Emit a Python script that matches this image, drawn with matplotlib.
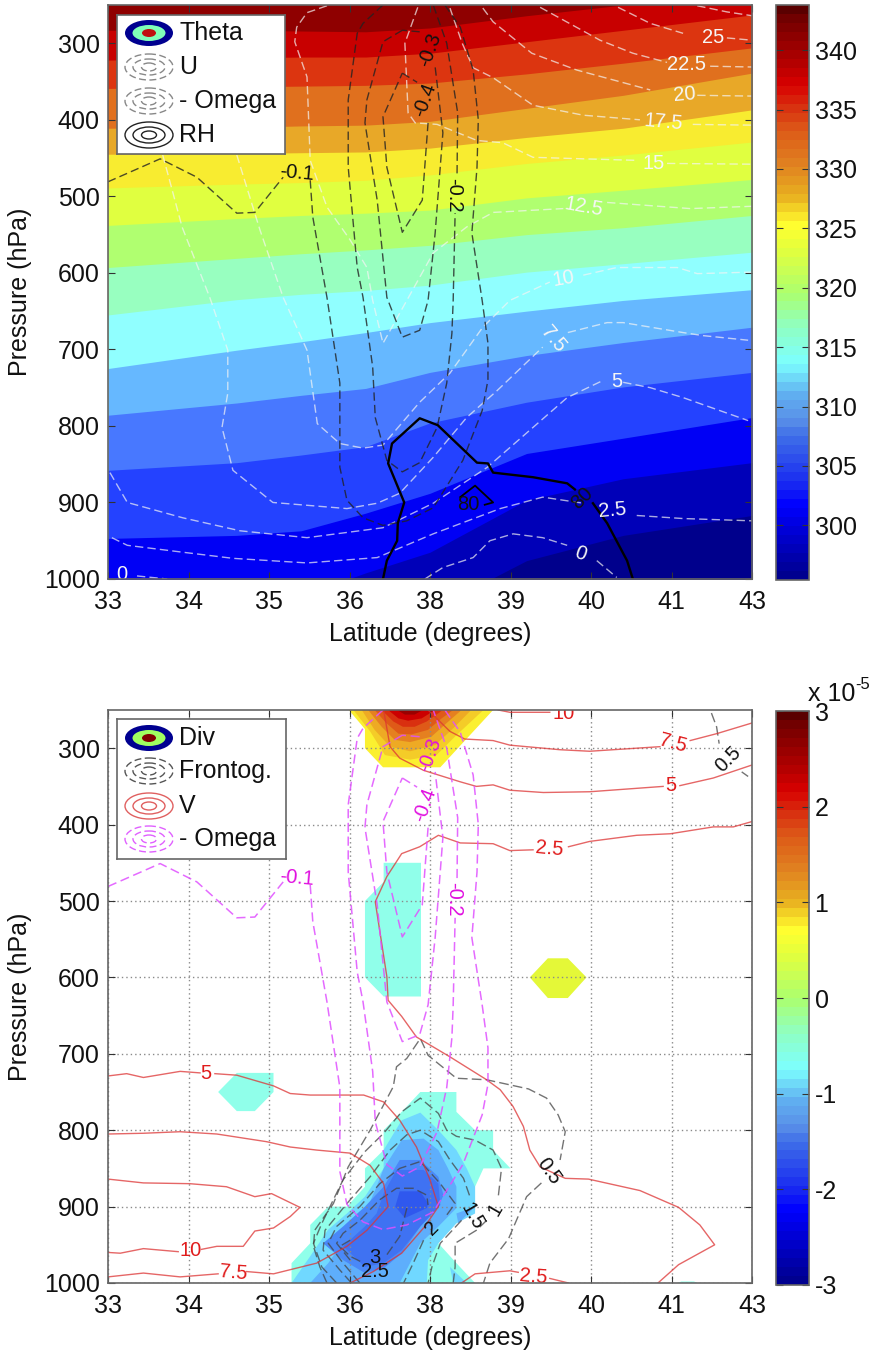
#!/usr/bin/env python3
# -*- coding: utf-8 -*-
"""Cross sections of theta, wind, omega, RH (top) and divergence, frontogenesis, V (bottom)."""
import numpy as np
import matplotlib
matplotlib.use('Agg')
import matplotlib.pyplot as plt
from matplotlib.cm import ScalarMappable
from matplotlib.colors import LinearSegmentedColormap, Normalize
from matplotlib.patches import Ellipse

plt.rcParams['font.family'] = ['Liberation Sans', 'DejaVu Sans']

nan = np.nan
W, H = 876, 1355

#------------------------------------------------------------------------------#
# Axis labels
x_ticks = np.linspace(33, 43, 9)
x_tick_labels = ['33', '34', '35', '36', '38', '39', '40', '41', '43']
y_ticks = [300, 400, 500, 600, 700, 800, 900, 1000]

#------------------------------------------------------------------------------#
# Theta bands: pressure of each band edge at these latitudes, top of figure down
theta_lat = [33, 35, 36, 37, 38, 39.5, 41, 43]
theta_edges = [
    [283, 283, 284, 285, 280, 264, 250, 237],
    [322, 319, 318, 318, 313, 298, 283, 263],
    [359, 357, 356, 355, 352, 340, 326, 306],
    [411, 410, 408, 407, 402, 385, 368, 339],
    [445, 444, 443, 442, 437, 423, 411, 387],
    [489, 484, 482, 479, 472, 457, 446, 429],
    [538, 529, 525, 522, 518, 502, 492, 478],
    [593, 581, 575, 570, 564, 550, 541, 525],
    [655, 635, 628, 623, 616, 599, 588, 573],
    [725, 701, 690, 678, 665, 650, 636, 622],
    [786, 770, 760, 751, 730, 708, 691, 671],
    [858, 848, 838, 827, 796, 769, 749, 730],
    [947, 943, 937, 914, 888, 836, 816, 789],
    [1080, 1054, 1022, 992, 965, 897, 869, 848],
    [1150, 1120, 1100, 1080, 1041, 976, 943, 917],
]
theta_colors = ['#8f0000', '#c80000', '#dc3510', '#e0701e', '#e8a828', '#f8ec30',
                '#e0ff40', '#b0ff70', '#98ffc0', '#90ffff', '#66b8ff', '#4878ff',
                '#2442ff', '#0000f5', '#0000b8', '#00008c']

#------------------------------------------------------------------------------#
# Omega contours (both panels)
om1_lat = [33, 33.81, 34.38, 35, 35.28, 35.72, nan, 36.14, 36.18, 36.40, 36.60, 36.60, 36.71, 36.96,
           37.27, 37.64, 38.05, 38.51, 38.81, 38.90, 38.90, 38.81, 38.65, 38.73, 38.75, 38.67, 38.47, 38.23]
om1_p = [481, 451, 475, 522, 521, 475, nan, 479, 527, 632, 744, 854, 897, 920,
         930, 924, 907, 845, 780, 740, 692, 636, 548, 462, 400, 335, 279, 250]
om2_lat = [37.27, 36.96, 36.87, 36.73, 36.73, 36.87, 36.96, 37.11, 37.15, 37.33, 37.57, 37.84, 38.11,
           38.26, 38.34, 38.36, 38.39, nan, 38.42, 38.43, 38.26, 38.05]
om2_p = [250, 274, 287, 374, 462, 593, 632, 723, 789, 845, 860, 848, 802,
         744, 679, 636, 522, nan, 470, 391, 300, 250]
om3_lat = [37.57, 37.27, 37.02, 36.99, 37.18, 37.33, 37.57, 37.84, 37.97, 38.08, 38.20, 38.08, nan, 37.84, 37.57]
om3_p = [283, 298, 374, 404, 505, 632, 684, 675, 636, 548, 417, 331, nan, 285, 283]
om4_lat = [37.57, 37.80, nan, 37.97, 37.88, 37.57, 37.33, 37.27, 37.57]
om4_p = [339, 351, nan, 404, 505, 547, 462, 396, 339]

om_label_text = ['-0.1', '-0.2', '-0.3', '-0.4']
om_label_lat = [35.93, 38.37, 38.00, 37.92]
om_label_p = [470, 498, 309, 374]
om_label_rot = [-5, -90, 70, 70]

#------------------------------------------------------------------------------#
# U contours (top)
u275_lat = [42.15, 42.61, 43]
u275_p = [251, 259, 264]
u25_lat = [40.92, 41.42, 41.93, nan, 42.61, 43]
u25_p = [253, 274, 287, nan, 293, 296]
u225_lat = [39.71, 40.64, 41.15, 41.68, nan, 42.35, 43]
u225_p = [253, 296, 313, 325, nan, 330, 331]
u20_lat = [38.82, 38.98, 39.58, 40.28, 41.42, nan, 42.15, 43]
u20_p = [254, 272, 313, 335, 361, nan, 368, 369]
u175_lat = [38.31, 38.50, 38.67, 38.98, 39.60, 40.38, 41.26, nan, 42.08, 43]
u175_p = [254, 300, 332, 345, 381, 394, 400, nan, 406, 407]
u15_lat = [37.81, 37.61, 37.66, 37.77, 38.11, 38.73, 39.13, 39.60, 40.38, 41.21, nan, 41.68, 43]
u15_p = [253, 300, 391, 404, 406, 427, 430, 449, 451, 453, nan, 457, 458]
u125_lat = [36.40, 36.09, 35.93, 35.90, 36.09, 36.14, 36.40, 36.76, 37.02, 37.11, 37.27, 37.64,
            38.05, 38.57, 38.98, 40.07, nan, 40.75, 42.04, 43]
u125_p = [251, 260, 279, 298, 344, 453, 514, 557, 593, 636, 692, 636,
          574, 540, 521, 516, nan, 508, 516, 513]
u10_lat = [35, 35.36, 35.72, 36.09, 36.25, 36.60, 36.96, 37.27, 37.84, 38.31, 38.82, 39.24, 39.86,
           nan, 40.38, 40.90, 41.84, 42.15, 43]
u10_p = [446, 544, 632, 701, 797, 823, 829, 825, 769, 731, 671, 636, 612,
         nan, 603, 593, 593, 601, 599]
u75_lat = [33.85, 34.01, 34.15, 34.58, 34.86, 34.86, 34.77, 34.94, 35.56, 36.71, 37.18, 37.53, 38.05,
           38.57, 39.04, 39.75, nan, 40.14, 40.75, 41, 41.93, 42.24, 42.94]
u75_p = [446, 496, 540, 632, 701, 757, 802, 858, 900, 908, 901, 888, 841,
         789, 754, 697, nan, 678, 665, 665, 678, 682, 688]
u5_lat = [33.03, 33.30, 34.16, 35.05, 36.09, 37.27, 38.05, 38.89, 40.13, 40.70, nan, 41.00, 41.42, 41.93, 42.94]
u5_p = [861, 900, 920, 937, 946, 933, 901, 854, 763, 740, nan, 743, 750, 763, 793]
u25b_lat = [33.06, 33.30, 34.16, 34.94, 36.09, 37.18, 38.05, 39.09, 39.75, 40.38, nan, 41.21, 41.93, 43]
u25b_p = [946, 956, 965, 973, 979, 972, 941, 908, 893, 901, nan, 917, 921, 924]
u0a_lat = [33, nan, 33.45, 33.92]
u0a_p = [996, nan, 996, 1000]
u0b_lat = [37.92, 38.20, 38.67, 38.93, 39.29, 39.75, 40.13, nan, 40.59, 40.90]
u0b_p = [1000, 985, 972, 950, 941, 946, 956, nan, 976, 998]

u_label_text = ['25', '22.5', '20', '17.5', '15', '12.5', '10', '7.5', '5', '2.5', '0', '0']
u_label_lat = [42.39, 41.99, 41.96, 41.62, 41.48, 40.38, 40.07, 39.91, 40.90, 40.84, 40.34, 33.22]
u_label_p = [293, 328, 367, 403, 457, 514, 607, 686, 742, 910, 967, 994]
u_label_rot = [0, 0, 5, -5, 0, -10, 10, -50, 0, 5, -20, 0]

#------------------------------------------------------------------------------#
# RH contours (top)
rh1_lat = [37.27, 37.33, 37.49, 37.50, 37.60, 37.35, 37.41, 37.84, 38.12, 38.73, 38.90, 38.98, 39.60,
           40.13, 40.25, nan, 40.53, 40.75, 41.06, 41.15]
rh1_p = [1000, 976, 950, 927, 900, 849, 823, 790, 799, 848, 849, 861, 867,
         875, 883, nan, 901, 927, 976, 1000]
rh2_lat = [38.85, 38.98, 38.70, 38.47]
rh2_p = [903, 900, 878, 893]
rh_label_text = ['80', '80']
rh_label_lat = [38.59, 40.36]
rh_label_p = [903, 894]
rh_label_rot = [0, 45]

#------------------------------------------------------------------------------#
# Divergence patches (bottom), outermost first
div_mint_lat = [37.85, 38.41, 38.41, 38.70, 38.98, 38.98, 39.25, 38.83, 38.70, 38.70, 38.41, 38.13, 38.41, 38.70,
                35.85, 35.85, 36.14, 36.14, 36.42, 36.71, 36.99, 36.99, 37.28, 37.28, 37.56]
div_mint_p = [750, 750, 776, 800, 800, 826, 850, 850, 874, 905, 921, 948, 974, 1000,
              1000, 974, 948, 924, 900, 900, 874, 850, 826, 800, 776]
div_mint2_lat = [37.28, 37.86, 37.86, 37.28, 36.99, 36.99, 37.28]
div_mint2_p = [450, 450, 625, 625, 600, 500, 475]
div_mint3_lat = [35, 35.57, 35.57, 35.28, 35, 34.71]
div_mint3_p = [725, 725, 750, 775, 775, 750]
div_mint4_lat = [41.85, 42.15, 42.10, 41.90]
div_mint4_p = [1000, 1000, 998, 998]
div_sky_lat = [37.56, 37.85, 38.13, 38.41, 38.57, 38.70, 38.70, 38.41, 38.13, 37.97, 37.95, 35.85,
               36.14, 36.42, 36.71, 36.99, 37.28, 37.28]
div_sky_p = [787, 777, 800, 826, 850, 874, 909, 922, 948, 970, 1000, 1000,
             965, 930, 909, 887, 850, 826]
div_sky2_lat = [38.31, 38.57, 38.36]
div_sky2_p = [979, 1000, 1000]
div_blue1_lat = [37.56, 37.90, 38.13, 38.28, 38.41, 38.41, 38.13, 37.85, 37.69, 37.53, 36.14, 36.42,
                 36.71, 36.99, 37.17, 37.28]
div_blue1_p = [813, 811, 826, 850, 874, 902, 926, 948, 974, 1000, 1000, 974,
               939, 909, 874, 850]
div_blue1b_lat = [38.41, 38.70, 38.44]
div_blue1b_p = [909, 900, 922]
div_blue2_lat = [37.53, 37.85, 38.13, 38.21, 38.13, 37.85, 37.56, 37.28, 36.99, 36.65, 36.34, 36.65, 36.99, 37.28]
div_blue2_p = [839, 839, 861, 885, 900, 926, 961, 981, 987, 970, 948, 926, 900, 874]
div_blue3_lat = [37.48, 37.90, 38.13, 38.16, 37.85, 37.56, 37.28, 36.99, 36.65, 36.99, 37.17, 37.28]
div_blue3_p = [852, 852, 870, 898, 926, 957, 974, 979, 952, 926, 909, 883]
div_blue4_lat = [37.53, 37.85, 37.97, 37.95, 37.61, 37.46]
div_blue4_p = [880, 880, 896, 902, 915, 900]
div_yel_lat = [39.83, 40.14, 40.43, 40.14, 39.83, 39.55]
div_yel_p = [575, 575, 600, 627, 627, 600]
div_hi1_lat = [36.74, 36.99, 36.99, 37.27, 38.16, 38.98]
div_hi1_p = [250, 275, 300, 325, 325, 250]
div_hi2_lat = [36.81, 37.07, 37.30, 37.69, 38.10, 38.41, 38.83]
div_hi2_p = [250, 278, 309, 315, 309, 283, 250]
div_hi3_lat = [36.94, 37.14, 37.38, 37.69, 38.08, 38.36, 38.64]
div_hi3_p = [250, 276, 298, 304, 296, 274, 250]
div_hi4_lat = [37.04, 37.25, 37.45, 37.69, 38.02, 38.26, 38.49]
div_hi4_p = [250, 272, 289, 292, 285, 267, 250]
div_hi5_lat = [37.14, 37.32, 37.51, 37.71, 37.97, 38.18, 38.36]
div_hi5_p = [250, 267, 281, 282, 276, 261, 250]
div_hi6_lat = [37.25, 37.43, 37.58, 37.76, 37.95, 38.20]
div_hi6_p = [250, 265, 272, 272, 265, 250]
div_hi7_lat = [37.35, 37.51, 37.66, 37.87, 38.08]
div_hi7_p = [250, 261, 264, 261, 250]
div_hi8_lat = [37.49, 37.61, 37.76, 37.89]
div_hi8_p = [250, 256, 256, 250]

#------------------------------------------------------------------------------#
# V contours (bottom)
v25a_lat = [41.54, 41.86, 42.42, 42.19, 41.86, 41.26, 40.46, 40.10, 39.71, 39.55, 39.45, 39.29, 39.09, 38.88,
            38.31, 37.79, 37.56, 37.35, 37.33, 37.15, 37.33, 37.56, 37.84, 38.13, 38.47, 38.98, 39.24, 39.60,
            nan, 40.15, 40.48, 41.21, 41.73, 42.40, 42.71, 43]
v25a_p = [1000, 976, 950, 924, 901, 879, 864, 863, 848, 826, 795, 769, 747, 734,
          704, 678, 651, 630, 599, 501, 468, 438, 429, 414, 424, 425, 434, 433,
          nan, 429, 422, 414, 412, 403, 403, 396]
v25b_lat = [38.49, 38.70, 39.24, 39.37, nan, 39.86, 40.15]
v25b_p = [1000, 988, 984, 986, nan, 994, 1000]
v5a_lat = [37.28, 37.38, 37.53, 37.90, 38.47, 38.72, 38.98, 39.24, 39.76, 40.48, 41.62, nan, 41.88, 42.40, 43]
v5a_p = [250, 298, 313, 329, 344, 350, 348, 355, 358, 357, 350, nan, 349, 339, 322]
v5b_lat = [33, 33.29, 33.55, 34.12, 34.43, nan, 34.66, 35, 35.57, 35.83, 36.14, 36.97, 37.28, 37.53,
           37.79, 38, 38.13, 37.92, 37.56, 37.12, 36.76]
v5b_p = [729, 726, 731, 723, 725, nan, 726, 728, 742, 752, 754, 754, 763, 787,
         822, 865, 900, 926, 961, 985, 1000]
v75a_lat = [37.97, 38.31, 38.54, 38.98, 39.24, 40.02, 40.48, 41.57, nan, 42.04, 42.45, 43]
v75a_p = [250, 278, 288, 290, 296, 302, 304, 298, nan, 290, 281, 267]
v75b_lat = [33, 33.55, 34.12, 34.69, 35.46, 35.83, 36.24, 36.76, 37.07, 37.28, 37.35, 37.02, 36.71, 36.24,
            35.57, 35.15, nan, 34.71, 34.12, 33.55, 33]
v75b_p = [805, 804, 802, 805, 815, 822, 826, 830, 846, 870, 900, 931, 952, 974,
          988, 985, nan, 988, 992, 987, 992]
v10a_lat = [39.06, 39.24, 39.86, nan, 40.30]
v10a_p = [250, 253, 253, nan, 250]
v10b_lat = [33, 33.55, 34.27, 34.84, 35.28, 35.54, 35.98, 35.83, 35.57, 35.28, 35.10, 34.69, 34.45,
            nan, 34.09, 33.55, 33.19, 33]
v10b_p = [864, 869, 870, 874, 887, 883, 901, 913, 928, 932, 952, 952, 956,
          nan, 959, 955, 961, 960]

v_label_text = ['2.5', '5', '7.5', '10', '5', '10', '7.5', '2.5']
v_label_lat = [39.85, 41.74, 41.77, 40.07, 34.52, 34.28, 34.95, 39.60]
v_label_p = [432, 349, 294, 254, 726, 957, 987, 992]
v_label_rot = [-5, 0, -15, 0, 0, 0, -5, -5]

#------------------------------------------------------------------------------#
# Frontogenesis contours (bottom)
fg05a_lat = [36.40, 36.29, 36.19, 36.21, 36.50, 36.73, 37.07, 37.43, 37.48, 37.64, 37.85, 37.97, 38.41, 38.88,
             39.53, 39.81, 39.99, 40.10, 40.02, nan, 39.73, 39.50, 39.22, 38.93, 38.83]
fg05a_p = [1000, 979, 952, 931, 896, 848, 800, 743, 717, 706, 680, 702, 732, 734,
           746, 758, 780, 802, 839, nan, 869, 887, 942, 974, 1000]
fg05b_lat = [42.37, 42.45, 42.49, nan, 42.84, 42.94]
fg05b_p = [254, 272, 294, nan, 331, 337]
fg10_lat = [36.55, 36.32, 36.19, 36.32, 36.65, 36.99, 37.28, 37.56, 37.85, 38.13, 38.26, 38.41, 38.70, 38.98,
            39.11, 39.06, nan, 38.88, 38.72, 38.39, 38.39, 38.36]
fg10_p = [1000, 979, 948, 922, 865, 828, 804, 776, 758, 778, 800, 808, 813, 826,
          850, 887, nan, 918, 931, 948, 979, 1000]
fg15_lat = [36.78, 36.60, 36.34, 36.37, 36.71, 37.07, 37.38, 37.64, 37.85, 38.13, 38.31, 38.52, 38.62,
            nan, 38.49, 38.16, 38.03, 37.97]
fg15_p = [1000, 983, 957, 931, 896, 861, 826, 806, 800, 815, 839, 863, 887,
          nan, 918, 948, 979, 1000]
fg20_lat = [36.91, 36.65, 36.42, 36.55, 36.91, 37.22, 37.53, 37.85, 38.16, 38.39, 38.26,
            nan, 37.90, 37.74, 37.59]
fg20_p = [1000, 974, 948, 926, 900, 870, 850, 841, 870, 896, 911,
          nan, 944, 974, 1000]
fg25a_lat = [36.76, 36.55, 36.65, 36.91, 37.22, 37.48, 37.74, 37.95, 37.97]
fg25a_p = [970, 948, 935, 918, 891, 876, 876, 885, 898]
fg25b_lat = [37.64, 37.53, 37.33]
fg25b_p = [902, 939, 963]
fg30_lat = [36.76, 36.60, 36.76, 36.97]
fg30_p = [944, 952, 965, 974]

fg_label_text = ['0.5', '0.5', '1', '1.5', '2', '3', '2.5']
fg_label_lat = [42.63, 39.84, 39.01, 38.65, 38.03, 37.15, 37.15]
fg_label_p = [315, 854, 904, 913, 928, 966, 985]
fg_label_rot = [45, -55, 60, -60, 45, 0, 0]

#------------------------------------------------------------------------------#
# Colorbars
cbar_pos = [0, 0.125, 0.165, 0.247, 0.275, 0.32, 0.375, 0.44, 0.497, 0.578, 0.618, 0.64,
            0.67, 0.728, 0.787, 0.827, 0.867, 0.9, 0.95, 0.985, 1]
cbar_col = ['#00008f', '#0000ff', '#1a2cf0', '#3f6fe8', '#5a90e8', '#60b0f0', '#7cffff', '#90ffc0',
            '#aaff70', '#e4ff3c', '#ffff30', '#f8e028', '#e8b020', '#e08020', '#dd5a18', '#d83010',
            '#d80000', '#b80000', '#8f0000', '#700000', '#5a0000']
theta_ticks = [300, 305, 310, 315, 320, 325, 330, 335, 340]
div_ticks = [-3, -2, -1, 0, 1, 2, 3]
#------------------------------------------------------------------------------#


def axes_px(x0, y0, x1, y1):
    """Axes rectangle from pixel edges, y measured from the top of the image."""
    return [x0 / W, 1 - y1 / H, (x1 - x0) / W, (y1 - y0) / H]


def setup_axes(ax, grid=False):
    ax.set_xlim(33, 43)
    ax.set_ylim(1000, 250)
    ax.set_xticks(x_ticks)
    ax.set_xticklabels(x_tick_labels)
    ax.set_yticks(y_ticks)
    ax.tick_params(direction='in', length=5, width=0.8, color='#333333', top=True, right=True,
                   labelsize=18, labelcolor='#111111')
    ax.tick_params(axis='x', pad=8)
    ax.tick_params(axis='y', pad=6)
    ax.set_xlabel('Latitude (degrees)', fontsize=18, labelpad=6, color='#111111')
    ax.set_ylabel('Pressure (hPa)', fontsize=18, color='#111111')
    ax.yaxis.set_label_coords(-0.118, 0.5)
    for side in ax.spines.values():
        side.set_color('#666666')
        side.set_linewidth(1.2)
        side.set_zorder(20)
    if grid:
        ax.set_axisbelow(False)
        ax.grid(True, linestyle=(0, (1, 2.2)), color='#8a8a8a', linewidth=1.0)


def dashed(ax, lat, p, color, lw=1.0, alpha=1.0, dash=(6, 3)):
    ax.plot(lat, p, color=color, lw=lw, alpha=alpha, linestyle=(0, dash), zorder=4)


def solid(ax, lat, p, color, lw=1.0, alpha=1.0):
    ax.plot(lat, p, color=color, lw=lw, alpha=alpha, zorder=4)


def labels(ax, text, lat, p, rot, color, size=14.5):
    for t, x, y, r in zip(text, lat, p, rot):
        ax.text(x, y, t, rotation=r, color=color, fontsize=size, ha='center', va='center',
                rotation_mode='anchor', zorder=6, clip_on=True)


def legend_box(x0, y0, x1, y1, rows):
    """Hand made legend: rows of (label, y pixel, outline colour or tuple of fills, dashed)."""
    box = fig.add_axes(axes_px(x0, y0, x1, y1), zorder=10)
    box.set_xlim(x0, x1)
    box.set_ylim(y1, y0)
    box.set_xticks([])
    box.set_yticks([])
    box.set_facecolor('white')
    for side in box.spines.values():
        side.set_color('#666666')
        side.set_linewidth(1.2)
    for text, yc, style, dash in rows:
        if isinstance(style, tuple):
            for (w, h), c in zip([(48, 26), (33, 16), (14, 8)], style):
                box.add_patch(Ellipse((149, yc), w, h, facecolor=c, edgecolor='none'))
        else:
            for w, h in [(48, 26), (32, 16), (15, 8)]:
                box.add_patch(Ellipse((149, yc), w, h, facecolor='none', edgecolor=style, lw=1.0,
                                      linestyle=(0, (5, 2.5)) if dash else '-'))
        box.text(179, yc, text, fontsize=18, va='center', ha='left', color='#111111')


def colorbar(y0, y1, vmin, vmax, ticks):
    cax = fig.add_axes(axes_px(776, y0, 809, y1))
    sm = ScalarMappable(Normalize(vmin, vmax), cmap)
    cb = fig.colorbar(sm, cax=cax, ticks=ticks)
    cb.outline.set_edgecolor('#666666')
    cb.outline.set_linewidth(1.2)
    cax.tick_params(direction='in', length=5, width=0.8, color='#333333', left=True, right=True,
                    labelsize=18, pad=4, labelcolor='#111111')
    cax.set_yticklabels([str(t) for t in ticks])
    return cb


#------------------------------------------------------------------------------#
fig = plt.figure(figsize=(W / 100, H / 100), dpi=100)
cmap = LinearSegmentedColormap.from_list('jetish', list(zip(cbar_pos, cbar_col)), N=64)

#------------------------------------------------------------------------------#
# TOP PANEL.
ax1 = fig.add_axes(axes_px(108, 5, 752, 579))
ax1.fill_between(theta_lat, 200, 1200, color=theta_colors[0], lw=0, zorder=1)
for edge, col in zip(theta_edges, theta_colors[1:]):
    # paint each band down to the bottom so no seams show between them
    ax1.fill_between(theta_lat, edge, 1200, color=col, lw=0, zorder=1)
setup_axes(ax1)

for lat, p in [(u275_lat, u275_p), (u25_lat, u25_p), (u225_lat, u225_p), (u20_lat, u20_p), (u175_lat, u175_p),
               (u15_lat, u15_p), (u125_lat, u125_p), (u10_lat, u10_p), (u75_lat, u75_p), (u5_lat, u5_p),
               (u25b_lat, u25b_p), (u0a_lat, u0a_p), (u0b_lat, u0b_p)]:
    dashed(ax1, lat, p, '#f4f4f4', lw=1.0, alpha=0.7)
labels(ax1, u_label_text, u_label_lat, u_label_p, u_label_rot, '#f6f6f6')

for lat, p in [(om1_lat, om1_p), (om2_lat, om2_p), (om3_lat, om3_p), (om4_lat, om4_p)]:
    dashed(ax1, lat, p, '#222222', lw=1.0, alpha=0.8)
labels(ax1, om_label_text, om_label_lat, om_label_p, om_label_rot, '#111111')

solid(ax1, rh1_lat, rh1_p, '#000000', lw=1.7)
solid(ax1, rh2_lat, rh2_p, '#000000', lw=1.3)
labels(ax1, rh_label_text, rh_label_lat, rh_label_p, rh_label_rot, '#111111')

legend_box(117, 15, 285, 154, [
    ('Theta', 33, ('#000090', '#80ffb8', '#c01010'), False),
    ('U', 67, '#888888', True),
    ('- Omega', 101, '#888888', True),
    ('RH', 135, '#222222', False),
])
colorbar(5, 580, 295.4, 343.8, theta_ticks)

#------------------------------------------------------------------------------#
# BOTTOM PANEL.
ax2 = fig.add_axes(axes_px(108, 710, 752, 1283))
for lat, p, col in [(div_mint_lat, div_mint_p, '#90ffea'), (div_mint2_lat, div_mint2_p, '#90ffea'),
                    (div_mint3_lat, div_mint3_p, '#90ffea'), (div_mint4_lat, div_mint4_p, '#90ffea'),
                    (div_sky_lat, div_sky_p, '#70d8ff'), (div_sky2_lat, div_sky2_p, '#70d8ff'),
                    (div_blue1_lat, div_blue1_p, '#5eaefc'), (div_blue1b_lat, div_blue1b_p, '#5eaefc'),
                    (div_blue2_lat, div_blue2_p, '#4a88f8'), (div_blue3_lat, div_blue3_p, '#3f72f2'),
                    (div_blue4_lat, div_blue4_p, '#2f58ee'), (div_yel_lat, div_yel_p, '#e4f838'),
                    (div_hi1_lat, div_hi1_p, '#fbf030'), (div_hi2_lat, div_hi2_p, '#f4cc28'),
                    (div_hi3_lat, div_hi3_p, '#eeaa24'), (div_hi4_lat, div_hi4_p, '#e58020'),
                    (div_hi5_lat, div_hi5_p, '#df5a18'), (div_hi6_lat, div_hi6_p, '#d93010'),
                    (div_hi7_lat, div_hi7_p, '#cc0000'), (div_hi8_lat, div_hi8_p, '#9a0000')]:
    ax2.fill(lat, p, color=col, lw=0, zorder=1)
setup_axes(ax2, grid=True)

for lat, p in [(fg05a_lat, fg05a_p), (fg05b_lat, fg05b_p), (fg10_lat, fg10_p), (fg15_lat, fg15_p),
               (fg20_lat, fg20_p), (fg25a_lat, fg25a_p), (fg25b_lat, fg25b_p), (fg30_lat, fg30_p)]:
    dashed(ax2, lat, p, '#444444', lw=1.0, alpha=0.75, dash=(7, 3))
labels(ax2, fg_label_text, fg_label_lat, fg_label_p, fg_label_rot, '#111111')

for lat, p in [(v25a_lat, v25a_p), (v25b_lat, v25b_p), (v5a_lat, v5a_p), (v5b_lat, v5b_p),
               (v75a_lat, v75a_p), (v75b_lat, v75b_p), (v10a_lat, v10a_p), (v10b_lat, v10b_p)]:
    solid(ax2, lat, p, '#dd3333', lw=1.0, alpha=0.75)
labels(ax2, v_label_text, v_label_lat, v_label_p, v_label_rot, '#e01c1c')

for lat, p in [(om1_lat, om1_p), (om2_lat, om2_p), (om3_lat, om3_p), (om4_lat, om4_p)]:
    dashed(ax2, lat, p, '#e050ff', lw=1.1, alpha=0.85)
labels(ax2, om_label_text, om_label_lat, om_label_p, om_label_rot, '#e010e0')

legend_box(117, 719, 286, 859, [
    ('Div', 738, ('#000090', '#a0ff60', '#800000'), False),
    ('Frontog.', 771, '#555555', True),
    ('V', 806, '#e06060', False),
    ('- Omega', 839, '#e060ff', True),
])
colorbar(711, 1285, -3, 3, div_ticks)
fig.text(808 / W, 1 - 694 / H, 'x 10', fontsize=18, va='center', ha='left', color='#111111')
fig.text(855 / W, 1 - 684 / H, '-5', fontsize=12, va='center', ha='left', color='#111111')

fig.savefig('out.png', dpi=100)
